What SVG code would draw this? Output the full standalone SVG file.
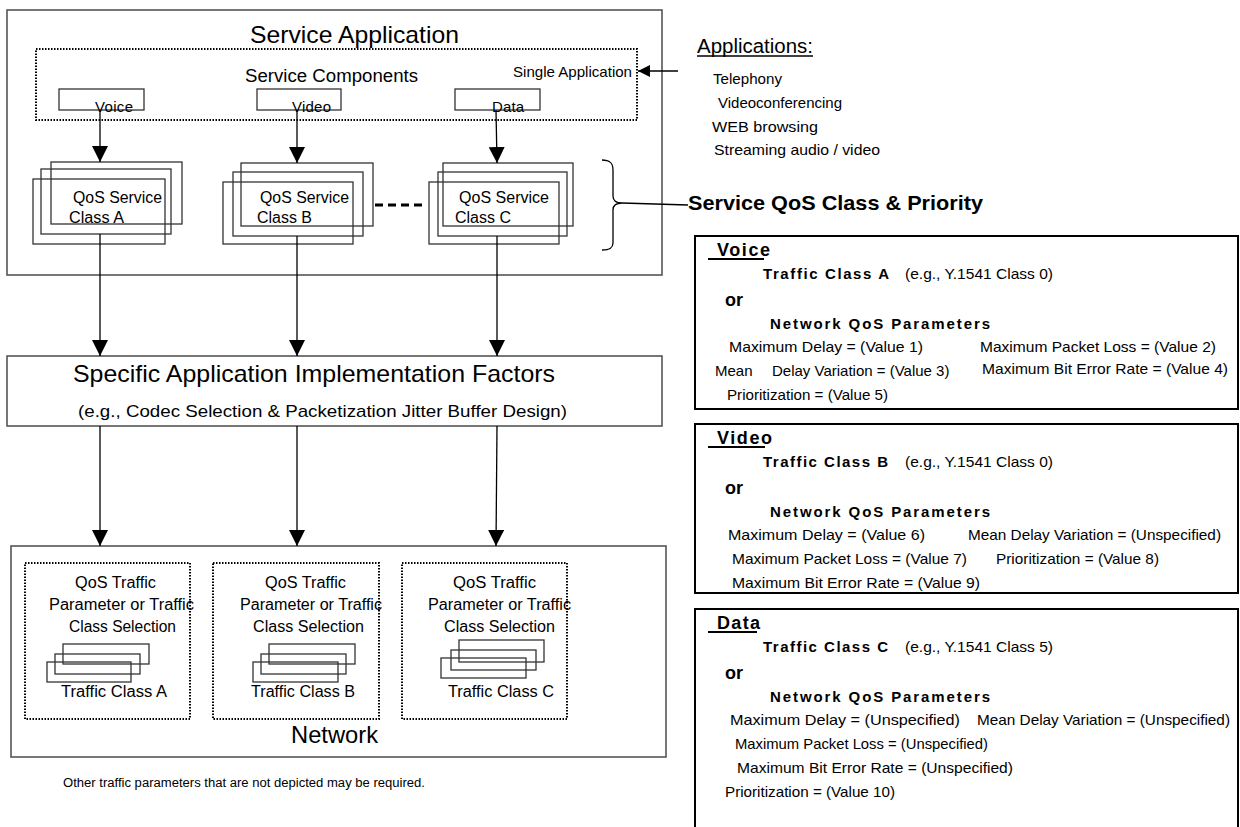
<svg xmlns="http://www.w3.org/2000/svg" width="1240" height="827" viewBox="0 0 1240 827">
<defs>
<style>
text{font-family:"Liberation Sans",Arial,sans-serif;fill:#000;}
.t15{font-size:15px;}
.t16{font-size:16px;}
.big{font-size:24px;}
.hb{font-size:18px;font-weight:bold;}
.b15{font-size:15px;font-weight:bold;}
.or{font-size:18px;font-weight:bold;}
.gbox{fill:none;stroke:#555;stroke-width:1.6;}
.kbox{fill:none;stroke:#000;stroke-width:2;}
.thin{fill:none;stroke:#333;stroke-width:1.3;}
.dot{fill:none;stroke:#000;stroke-width:2;stroke-dasharray:1.5 1.5;}
.conn{stroke:#000;stroke-width:1.3;fill:none;}
</style>
<marker id="ah" markerUnits="userSpaceOnUse" markerWidth="16" markerHeight="16" refX="16" refY="8" orient="auto">
<path d="M0,0 L16,8 L0,16 z" fill="#000"/>
</marker>
<marker id="ahs" markerUnits="userSpaceOnUse" markerWidth="12" markerHeight="12" refX="12" refY="6" orient="auto">
<path d="M0,0 L12,6 L0,12 z" fill="#000"/>
</marker>
</defs>

<g id="service-application">
<rect class="gbox" x="7" y="10" width="655" height="265" stroke-width="2"/>
<text class="big" x="250" y="43" textLength="209" lengthAdjust="spacingAndGlyphs">Service Application</text>
</g>

<g id="service-components">
<rect class="dot" x="36" y="49" width="601" height="71"/>
<text style="font-size:18px" x="245" y="82" textLength="173" lengthAdjust="spacingAndGlyphs">Service Components</text>
<text class="t15" x="513" y="77" textLength="119" lengthAdjust="spacingAndGlyphs">Single Application</text>
</g>

<g id="comp-voice">
<rect class="thin" x="59" y="89" width="85" height="21"/>
<text class="t15" x="95" y="112" textLength="38">Voice</text>
</g>
<g id="comp-video">
<rect class="thin" x="257" y="89" width="84" height="21"/>
<text class="t15" x="292" y="112" textLength="39">Video</text>
</g>
<g id="comp-data">
<rect class="thin" x="455" y="89" width="85" height="21"/>
<text class="t15" x="492" y="112" textLength="32">Data</text>
</g>

<g id="qos-class-a">
<rect class="thin" x="51" y="162" width="131" height="62"/>
<rect class="thin" x="41" y="169" width="130" height="65"/>
<rect class="thin" x="33" y="179" width="132" height="65"/>
<text class="t16" x="73" y="203" textLength="89" lengthAdjust="spacingAndGlyphs">QoS Service</text>
<text class="t16" x="69" y="223" textLength="55" lengthAdjust="spacingAndGlyphs">Class A</text>
</g>
<g id="qos-class-b">
<rect class="thin" x="241" y="163" width="132" height="63"/>
<rect class="thin" x="233" y="172" width="130" height="64"/>
<rect class="thin" x="223" y="182" width="130" height="62"/>
<text class="t16" x="260" y="203" textLength="89" lengthAdjust="spacingAndGlyphs">QoS Service</text>
<text class="t16" x="257" y="223" textLength="55" lengthAdjust="spacingAndGlyphs">Class B</text>
</g>
<g id="qos-class-c">
<rect class="thin" x="443" y="163" width="130" height="63"/>
<rect class="thin" x="438" y="172" width="129" height="64"/>
<rect class="thin" x="429" y="182" width="130" height="62"/>
<text class="t16" x="459" y="203" textLength="90" lengthAdjust="spacingAndGlyphs">QoS Service</text>
<text class="t16" x="455" y="223" textLength="56" lengthAdjust="spacingAndGlyphs">Class C</text>
</g>

<g id="brace">
<path class="conn" d="M602,160 C610,160 613,163 613,170 L613,196 C613,200 616,203 622,203 C616,203 613,206 613,210 L613,243 C613,248 610,250 602,250"/>
</g>

<g id="specific-factors">
<rect class="gbox" x="7" y="356" width="655" height="70"/>
<text class="big" x="73" y="382" textLength="482" lengthAdjust="spacingAndGlyphs">Specific  Application  Implementation Factors</text>
<text style="font-size:17px" x="78" y="417" textLength="489" lengthAdjust="spacingAndGlyphs">(e.g., Codec Selection &amp; Packetization Jitter Buffer Design)</text>
</g>

<g id="network">
<rect class="gbox" x="11" y="546" width="655" height="211" stroke="#333"/>
<text class="big" x="291" y="743" textLength="87" lengthAdjust="spacingAndGlyphs">Network</text>
</g>

<g id="net-a">
<rect class="dot" x="25" y="563" width="165" height="156"/>
<text class="t16" x="75" y="588" textLength="81" lengthAdjust="spacingAndGlyphs">QoS Traffic</text>
<text class="t16" x="49" y="610" textLength="145" lengthAdjust="spacingAndGlyphs">Parameter  or  Traffic</text>
<text class="t16" x="69" y="632" textLength="107" lengthAdjust="spacingAndGlyphs">Class Selection</text>
<rect class="thin" x="63" y="644" width="86" height="20"/>
<rect class="thin" x="55" y="654" width="85" height="20"/>
<rect class="thin" x="47" y="662" width="84" height="20"/>
<text class="t16" x="61" y="697" textLength="106" lengthAdjust="spacingAndGlyphs">Traffic Class A</text>
</g>
<g id="net-b">
<rect class="dot" x="213" y="563" width="166" height="156"/>
<text class="t16" x="265" y="588" textLength="81" lengthAdjust="spacingAndGlyphs">QoS Traffic</text>
<text class="t16" x="240" y="610" textLength="142" lengthAdjust="spacingAndGlyphs">Parameter or Traffic</text>
<text class="t16" x="253" y="632" textLength="111" lengthAdjust="spacingAndGlyphs">Class  Selection</text>
<rect class="thin" x="269" y="644" width="86" height="20"/>
<rect class="thin" x="261" y="654" width="85" height="20"/>
<rect class="thin" x="253" y="662" width="85" height="20"/>
<text class="t16" x="251" y="697" textLength="104" lengthAdjust="spacingAndGlyphs">Traffic Class B</text>
</g>
<g id="net-c">
<rect class="dot" x="402" y="563" width="165" height="156"/>
<text class="t16" x="453" y="588" textLength="83" lengthAdjust="spacingAndGlyphs">QoS Traffic</text>
<text class="t16" x="428" y="610" textLength="143" lengthAdjust="spacingAndGlyphs">Parameter  or Traffic</text>
<text class="t16" x="444" y="632" textLength="111" lengthAdjust="spacingAndGlyphs">Class  Selection</text>
<rect class="thin" x="459" y="640" width="85" height="22"/>
<rect class="thin" x="451" y="650" width="85" height="20"/>
<rect class="thin" x="441" y="658" width="85" height="20"/>
<text class="t16" x="448" y="697" textLength="106" lengthAdjust="spacingAndGlyphs">Traffic Class C</text>
</g>

<g id="note">
<text style="font-size:12.5px" x="63" y="787" textLength="362" lengthAdjust="spacingAndGlyphs">Other traffic parameters that are not depicted may be required.</text>
</g>

<g id="applications">
<text style="font-size:20px" x="697" y="53" textLength="116" lengthAdjust="spacingAndGlyphs">Applications:</text>
<line x1="697" y1="56" x2="813" y2="56" stroke="#000" stroke-width="1.5"/>
<text class="t15" x="713" y="84" textLength="69" lengthAdjust="spacingAndGlyphs">Telephony</text>
<text class="t15" x="718" y="108" textLength="124" lengthAdjust="spacingAndGlyphs">Videoconferencing</text>
<text class="t15" x="712" y="132" textLength="106" lengthAdjust="spacingAndGlyphs">WEB  browsing</text>
<text class="t15" x="714" y="155" textLength="166" lengthAdjust="spacingAndGlyphs">Streaming  audio / video</text>
</g>

<g id="service-qos-label">
<text style="font-size:21px;font-weight:bold" x="688" y="210" textLength="295" lengthAdjust="spacingAndGlyphs">Service QoS Class &amp; Priority</text>
</g>

<g id="voice-box">
<rect class="kbox" x="695" y="236" width="543" height="173"/>
<text class="hb" x="717" y="256" textLength="53">Voice</text>
<line x1="708" y1="259" x2="764" y2="259" stroke="#000" stroke-width="2"/>
<text class="b15" x="763" y="279" textLength="126">Traffic Class A</text>
<text class="t15" x="905" y="279" textLength="148" lengthAdjust="spacingAndGlyphs">(e.g., Y.1541 Class 0)</text>
<text class="or" x="725" y="306" textLength="18">or</text>
<text class="b15" x="770" y="329" textLength="220">Network QoS Parameters</text>
<text class="t15" x="729" y="352" textLength="194" lengthAdjust="spacingAndGlyphs">Maximum Delay  = (Value 1)</text>
<text class="t15" x="980" y="352" textLength="236" lengthAdjust="spacingAndGlyphs">Maximum Packet Loss = (Value 2)</text>
<text class="t15" y="376"><tspan x="715">Mean</tspan><tspan x="772">Delay Variation = (Value 3)</tspan></text>
<text class="t15" x="982" y="374" textLength="246" lengthAdjust="spacingAndGlyphs">Maximum Bit Error Rate = (Value 4)</text>
<text class="t15" x="727" y="400" textLength="161" lengthAdjust="spacingAndGlyphs">Prioritization = (Value 5)</text>
</g>

<g id="video-box">
<rect class="kbox" x="695" y="424" width="543" height="169"/>
<text class="hb" x="717" y="444" textLength="55">Video</text>
<line x1="708" y1="447" x2="765" y2="447" stroke="#000" stroke-width="2"/>
<text class="b15" x="763" y="467" textLength="125">Traffic Class B</text>
<text class="t15" x="905" y="467" textLength="148" lengthAdjust="spacingAndGlyphs">(e.g., Y.1541 Class 0)</text>
<text class="or" x="725" y="494" textLength="18">or</text>
<text class="b15" x="770" y="517" textLength="220">Network QoS Parameters</text>
<text class="t15" x="728" y="540" textLength="197" lengthAdjust="spacingAndGlyphs">Maximum Delay  = (Value 6)</text>
<text class="t15" x="968" y="540" textLength="253" lengthAdjust="spacingAndGlyphs">Mean Delay Variation = (Unspecified)</text>
<text class="t15" x="732" y="564" textLength="235" lengthAdjust="spacingAndGlyphs">Maximum Packet Loss = (Value 7)</text>
<text class="t15" x="996" y="564" textLength="163" lengthAdjust="spacingAndGlyphs">Prioritization = (Value 8)</text>
<text class="t15" x="732" y="588" textLength="248" lengthAdjust="spacingAndGlyphs">Maximum Bit Error Rate = (Value 9)</text>
</g>

<g id="data-box">
<rect class="kbox" x="695" y="609" width="543" height="240"/>
<text class="hb" x="717" y="629" textLength="43">Data</text>
<line x1="708" y1="632" x2="757" y2="632" stroke="#000" stroke-width="2"/>
<text class="b15" x="763" y="652" textLength="125">Traffic Class C</text>
<text class="t15" x="905" y="652" textLength="148" lengthAdjust="spacingAndGlyphs">(e.g., Y.1541 Class 5)</text>
<text class="or" x="725" y="679" textLength="18">or</text>
<text class="b15" x="770" y="702" textLength="220">Network QoS Parameters</text>
<text class="t15" x="730" y="725" textLength="230" lengthAdjust="spacingAndGlyphs">Maximum Delay  = (Unspecified)</text>
<text class="t15" x="977" y="725" textLength="253" lengthAdjust="spacingAndGlyphs">Mean Delay Variation = (Unspecified)</text>
<text class="t15" x="735" y="749" textLength="253" lengthAdjust="spacingAndGlyphs">Maximum Packet Loss = (Unspecified)</text>
<text class="t15" x="737" y="773" textLength="276" lengthAdjust="spacingAndGlyphs">Maximum Bit Error Rate = (Unspecified)</text>
<text class="t15" x="725" y="797" textLength="170" lengthAdjust="spacingAndGlyphs">Prioritization = (Value 10)</text>
</g>

<g id="connectors">
<line class="conn" x1="100" y1="110" x2="100" y2="162" marker-end="url(#ah)"/>
<line class="conn" x1="297" y1="110" x2="297" y2="163" marker-end="url(#ah)"/>
<line class="conn" x1="496" y1="110" x2="497" y2="163" marker-end="url(#ah)"/>
<line class="conn" x1="100" y1="234" x2="100" y2="356" marker-end="url(#ah)"/>
<line class="conn" x1="297" y1="236" x2="297" y2="356" marker-end="url(#ah)"/>
<line class="conn" x1="497" y1="236" x2="497" y2="356" marker-end="url(#ah)"/>
<line class="conn" x1="100" y1="426" x2="100" y2="546" marker-end="url(#ah)"/>
<line class="conn" x1="297" y1="426" x2="297" y2="546" marker-end="url(#ah)"/>
<line class="conn" x1="497" y1="426" x2="496" y2="546" marker-end="url(#ah)"/>
<line x1="375" y1="205" x2="424" y2="205" stroke="#000" stroke-width="3" stroke-dasharray="8 5"/>
<line class="conn" x1="678" y1="71" x2="638" y2="71" stroke-width="2" marker-end="url(#ahs)"/>
<line class="conn" x1="622" y1="203" x2="688" y2="205"/>
</g>
</svg>
